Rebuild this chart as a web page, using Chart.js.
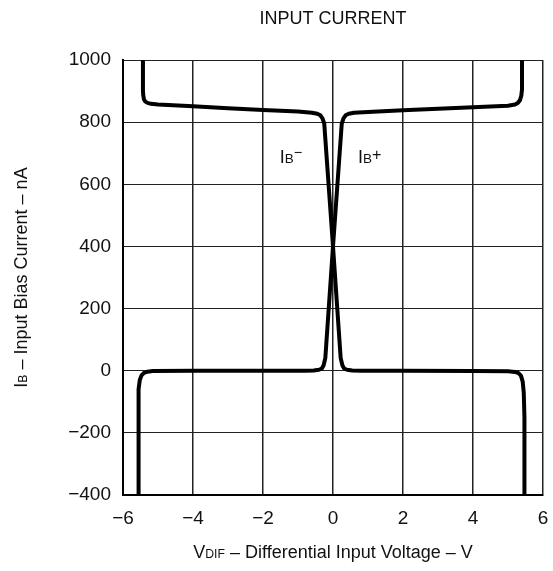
<!DOCTYPE html>
<html>
<head>
<meta charset="utf-8">
<script src="https://cdn.jsdelivr.net/npm/chart.js@4/dist/chart.umd.min.js"></script>
<style>
  html, body { margin: 0; padding: 0; background: #fff; }
  #wrap { width: 553px; height: 571px; }
</style>
</head>
<body>
<div id="wrap"><canvas id="chart" width="553" height="571"></canvas></div>
<script>
// axis ticks
const voltTicks = [-6, -4, -2, 0, 2, 4, 6];
const currentTicks = [-400, -200, 0, 200, 400, 600, 800, 1000];

// IB- : high on the negative side, drops to zero past 0 V
const ibMinusV = [-5.43, -5.43, -5.42, -5.40, -5.36, -5.30, -5.20, -5.0, -4.0, -3.0, -2.0, -1.0, -0.6, -0.45, -0.36, -0.30, -0.25, 0.0, 0.22, 0.27, 0.32, 0.40, 0.55, 0.8, 2.0, 4.0, 5.0, 5.20, 5.30, 5.37, 5.42, 5.45, 5.47, 5.47];
const ibMinusI = [1000, 900, 885, 873, 866, 862, 859, 857, 851, 845, 839, 834, 830, 827, 822, 812, 795, 400, 40, 17, 7, 3, 1, 0, 0, -1, -2, -4, -8, -16, -35, -70, -150, -400];

// IB+ : mirror curve, zero on the negative side, high past 0 V
const ibPlusV = [-5.56, -5.56, -5.55, -5.52, -5.47, -5.40, -5.30, -5.15, -4.0, -2.0, -0.8, -0.55, -0.40, -0.32, -0.27, -0.22, 0.0, 0.25, 0.30, 0.36, 0.45, 0.6, 1.0, 2.0, 3.0, 4.0, 5.0, 5.20, 5.28, 5.34, 5.38, 5.40, 5.40];
const ibPlusI = [-400, -150, -60, -30, -15, -7, -3, -1, 0, 0, 0, 1, 3, 7, 17, 40, 400, 795, 812, 822, 827, 830, 833, 838, 843, 848, 853, 857, 862, 870, 885, 905, 1000];

const pts = (xs, ys) => xs.map((x, i) => ({ x: x, y: ys[i] }));

const FONT = "'Liberation Sans', Arial, Helvetica, sans-serif";

// text with a small subscript, e.g. I with B under it
function subText(ctx, parts, x, y, size, align) {
  let total = 0;
  parts.forEach(p => {
    ctx.font = `${size * (p.scale || 1)}px ${FONT}`;
    p.w = ctx.measureText(p.t).width;
    total += p.w;
  });
  let cx = align === "center" ? x - total / 2 : x;
  parts.forEach(p => {
    ctx.font = `${size * (p.scale || 1)}px ${FONT}`;
    ctx.fillText(p.t, cx, y + (p.dy || 0) * size);
    cx += p.w;
  });
}

const textPlugin = {
  id: "texts",
  afterDraw(chart) {
    const ctx = chart.ctx;
    const area = chart.chartArea;
    const xs = chart.scales.x;
    const ys = chart.scales.y;
    const midX = (area.left + area.right) / 2;
    ctx.save();
    ctx.fillStyle = "#111";
    ctx.textBaseline = "alphabetic";
    ctx.textAlign = "left";

    // title
    ctx.font = `18px ${FONT}`;
    ctx.textAlign = "center";
    ctx.fillText("INPUT CURRENT", midX, 24);
    ctx.textAlign = "left";

    // x axis title
    subText(ctx, [
      { t: "V" },
      { t: "DIF", scale: 0.68 },
      { t: " – Differential Input Voltage – V" }
    ], midX, 558, 18, "center");

    // y axis title
    ctx.save();
    ctx.translate(27, (area.top + area.bottom) / 2);
    ctx.rotate(-Math.PI / 2);
    subText(ctx, [
      { t: "I" },
      { t: "B", scale: 0.68 },
      { t: " – Input Bias Current – nA" }
    ], 0, 0, 18, "center");
    ctx.restore();

    // curve labels
    subText(ctx, [
      { t: "I" }, { t: "B", scale: 0.75 }, { t: "−", scale: 0.8, dy: -0.35 }
    ], xs.getPixelForValue(-1.2), ys.getPixelForValue(668), 18, "center");
    subText(ctx, [
      { t: "I" }, { t: "B", scale: 0.75 }, { t: "+", scale: 0.9, dy: -0.15 }
    ], xs.getPixelForValue(1.05), ys.getPixelForValue(668), 18, "center");

    ctx.restore();
  }
};

const curveStyle = {
  borderColor: "#000",
  borderWidth: 4,
  pointRadius: 0,
  tension: 0,
  fill: false,
  showLine: true,
  borderJoinStyle: "round",
  borderCapStyle: "butt"
};

new Chart(document.getElementById("chart"), {
  type: "scatter",
  data: {
    datasets: [
      Object.assign({ label: "IB-", data: pts(ibMinusV, ibMinusI) }, curveStyle),
      Object.assign({ label: "IB+", data: pts(ibPlusV, ibPlusI) }, curveStyle)
    ]
  },
  options: {
    responsive: false,
    animation: false,
    layout: { padding: { left: 0, right: 10, top: 60, bottom: 0 } },
    plugins: {
      legend: { display: false },
      tooltip: { enabled: false },
      title: { display: false }
    },
    scales: {
      x: {
        type: "linear",
        min: -6,
        max: 6,
        afterBuildTicks: s => { s.ticks = voltTicks.map(v => ({ value: v })); },
        afterFit: s => { s.height = 76; s.paddingLeft = 0; s.paddingRight = 0; },
        border: { display: true, color: "#000", width: 2 },
        grid: { color: "#222", lineWidth: 1.5, drawTicks: false },
        ticks: {
          padding: 12,
          color: "#111",
          font: { family: FONT, size: 19 },
          maxRotation: 0,
          callback: v => String(v).replace("-", "−")
        }
      },
      y: {
        type: "linear",
        min: -400,
        max: 1000,
        afterBuildTicks: s => { s.ticks = currentTicks.map(v => ({ value: v })); },
        afterFit: s => { s.width = 123; s.paddingTop = 0; s.paddingBottom = 0; },
        border: { display: true, color: "#000", width: 2 },
        grid: { color: "#222", lineWidth: 1, drawTicks: false },
        ticks: {
          padding: 12,
          color: "#111",
          font: { family: FONT, size: 19 },
          callback: v => String(v).replace("-", "−")
        }
      }
    }
  },
  plugins: [textPlugin]
});
</script>
</body>
</html>
